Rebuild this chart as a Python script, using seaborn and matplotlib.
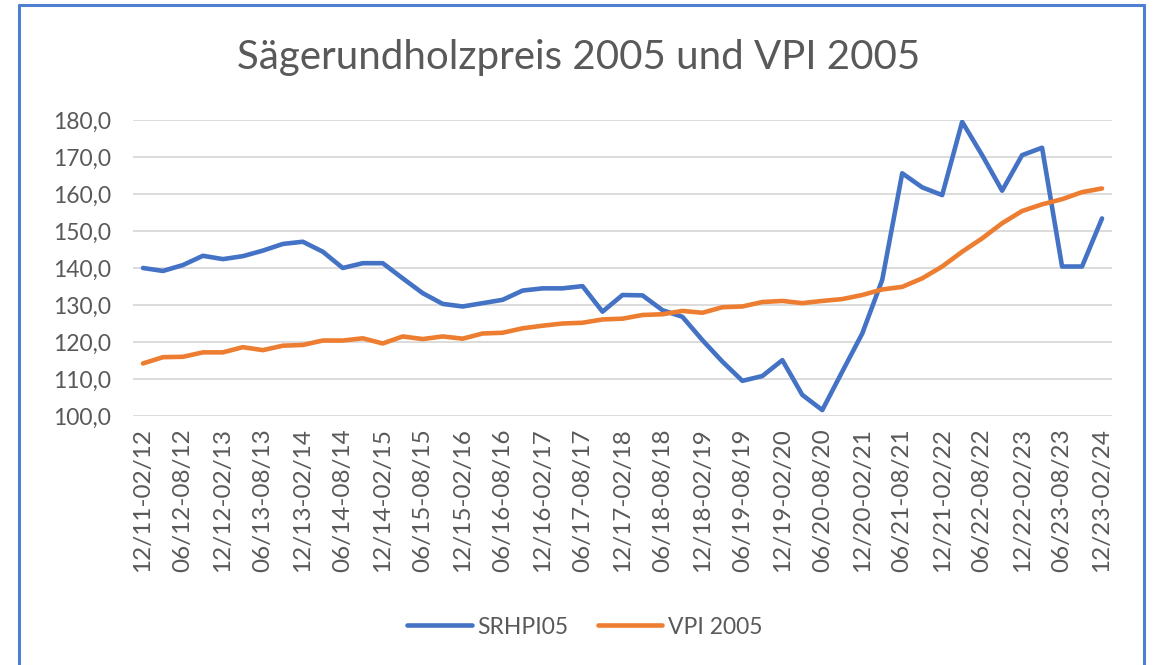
import numpy as np
import pandas as pd
import seaborn as sns
import matplotlib.pyplot as plt
from matplotlib.lines import Line2D

# quarterly values, 12/11-02/12 ... 12/23-02/24
srhpi05 = [140.0, 139.2, 140.8, 143.3, 142.4, 143.2, 144.7, 146.5, 147.1, 144.4,
           140.0, 141.3, 141.3, 137.2, 133.2, 130.3, 129.6, 130.5, 131.4, 133.9,
           134.5, 134.5, 135.1, 128.2, 132.7, 132.6, 128.6, 126.8, 120.5, 114.7,
           109.5, 110.8, 115.1, 105.7, 101.6, 112.0, 122.3, 136.8, 165.6, 161.8,
           159.7, 179.5, 170.5, 160.9, 170.5, 172.5, 140.4, 140.4, 153.4]
vpi2005 = [114.2, 115.9, 116.0, 117.2, 117.2, 118.6, 117.8, 119.0, 119.2, 120.4,
           120.4, 121.0, 119.6, 121.5, 120.8, 121.5, 120.9, 122.3, 122.5, 123.7,
           124.4, 125.0, 125.2, 126.1, 126.3, 127.3, 127.5, 128.4, 127.9, 129.4,
           129.6, 130.8, 131.1, 130.5, 131.1, 131.6, 132.7, 134.2, 134.9, 137.2,
           140.4, 144.4, 148.0, 152.1, 155.4, 157.2, 158.6, 160.5, 161.5]

# only every second period is labelled on the axis
tick_labels = ['12/11-02/12', '06/12-08/12', '12/12-02/13', '06/13-08/13', '12/13-02/14',
               '06/14-08/14', '12/14-02/15', '06/15-08/15', '12/15-02/16', '06/16-08/16',
               '12/16-02/17', '06/17-08/17', '12/17-02/18', '06/18-08/18', '12/18-02/19',
               '06/19-08/19', '12/19-02/20', '06/20-08/20', '12/20-02/21', '06/21-08/21',
               '12/21-02/22', '06/22-08/22', '12/22-02/23', '06/23-08/23', '12/23-02/24']
y_ticks = [100, 110, 120, 130, 140, 150, 160, 170, 180]
y_labels = ['100,0', '110,0', '120,0', '130,0', '140,0', '150,0', '160,0', '170,0', '180,0']

series_names = ['SRHPI05', 'VPI 2005']
colors = ['#4472C4', '#ED7D31']

# long format for seaborn
n = len(srhpi05)
df = pd.DataFrame({
    'period': list(range(n)) * 2,
    'value': srhpi05 + vpi2005,
    'series': [series_names[0]] * n + [series_names[1]] * n,
})

sns.set_style('white')
plt.rcParams['font.family'] = ['Lato', 'DejaVu Sans']
text_color = '#595959'

fig = plt.figure(figsize=(11.53, 6.65), dpi=100)
ax = fig.add_axes([133 / 1153, 1 - 416 / 665, (1112 - 133) / 1153, (416 - 120) / 665])

sns.lineplot(data=df, x='period', y='value', hue='series', hue_order=series_names,
             palette=colors, linewidth=3.3, ax=ax)
for line in ax.lines:
    line.set_solid_joinstyle('round')
    line.set_solid_capstyle('round')

ax.set_xlim(-0.5, n - 0.5)
ax.set_ylim(100, 180)
ax.set_yticks(y_ticks)
ax.set_yticklabels(y_labels)
ax.set_xticks(range(0, n, 2))
ax.set_xticklabels(tick_labels, rotation=90)
ax.tick_params(axis='x', length=0, pad=9, labelsize=17.5, labelcolor=text_color)
ax.tick_params(axis='y', length=0, pad=16, labelsize=16.5, labelcolor=text_color)
ax.set_xlabel('')
ax.set_ylabel('')

# horizontal grid only
ax.grid(axis='y', color='#D9D9D9', linewidth=1.3)
ax.grid(axis='x', visible=False)
for s in ax.spines.values():
    s.set_visible(False)

# legend below the axis labels
handles, labels = ax.get_legend_handles_labels()
ax.get_legend().remove()
fig.legend(handles, labels, loc='center', bbox_to_anchor=(585 / 1153, 1 - 627 / 665),
           ncol=2, frameon=False, fontsize=16.5, labelcolor=text_color,
           handlelength=2.8, handletextpad=0.25, columnspacing=1.3)

fig.text(579 / 1153, 1 - 57 / 665, 'Sägerundholzpreis 2005 und VPI 2005',
         ha='center', va='center', fontsize=29, color=text_color)

# blue frame around the chart
border = '#4F7FD0'
fig.add_artist(Line2D([19 / 1153, 19 / 1153], [0, 1 - 5 / 665], color=border, lw=2.2))
fig.add_artist(Line2D([1144 / 1153, 1144 / 1153], [0, 1 - 5 / 665], color=border, lw=2.2))
fig.add_artist(Line2D([19 / 1153, 1144 / 1153], [1 - 5 / 665, 1 - 5 / 665], color=border, lw=2.2))

fig.savefig('out.png', dpi=100)
